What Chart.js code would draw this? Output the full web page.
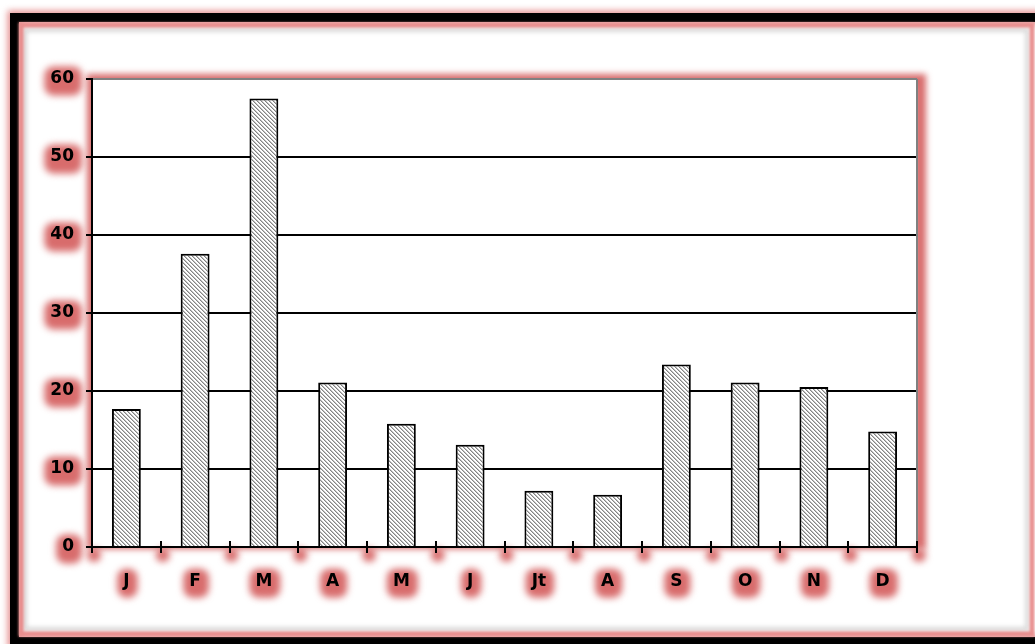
<!DOCTYPE html>
<html>
<head>
<meta charset="utf-8">
<script src="https://cdn.jsdelivr.net/npm/chart.js@4/dist/chart.umd.min.js"></script>
<style>
  html, body { margin: 0; padding: 0; background: #ffffff; }
  #wrap { width: 1035px; height: 644px; position: relative; overflow: hidden; }
  canvas { display: block; }
</style>
</head>
<body>
<div id="wrap"><canvas id="c" width="1035" height="644"></canvas></div>
<script>
// Monthly values, one bar per month
const months = ['J', 'F', 'M', 'A', 'M', 'J', 'Jt', 'A', 'S', 'O', 'N', 'D'];
const values = [17.7, 37.6, 57.5, 21.1, 15.8, 13.1, 7.2, 6.7, 23.4, 21.1, 20.5, 14.8];
const yTickValues = [0, 10, 20, 30, 40, 50, 60];

const FONT = '"DejaVu Sans", "Liberation Sans", sans-serif';
const FONT_SIZE = 17;
const Y_TICK_LEN = 6;
const Y_PAD = 12;
const X_PAD = 24;
const GLOW = 'rgba(212, 92, 92, 0.9)';

// Diagonal hatch fill for the bars
function makeHatch() {
  const t = document.createElement('canvas');
  t.width = 4; t.height = 4;
  const g = t.getContext('2d');
  g.fillStyle = '#ffffff';
  g.fillRect(0, 0, 4, 4);
  for (let y = 0; y < 4; y++) {
    for (let x = 0; x < 4; x++) {
      const d = ((x - y) % 4 + 4) % 4;
      if (d === 0) { g.fillStyle = '#848484'; g.fillRect(x, y, 1, 1); }
      else if (d === 1) { g.fillStyle = '#c2c2c2'; g.fillRect(x, y, 1, 1); }
    }
  }
  return g.createPattern(t, 'repeat');
}

function roundRect(ctx, x, y, w, h, r) {
  ctx.beginPath();
  ctx.moveTo(x + r, y);
  ctx.arcTo(x + w, y, x + w, y + h, r);
  ctx.arcTo(x + w, y + h, x, y + h, r);
  ctx.arcTo(x, y + h, x, y, r);
  ctx.arcTo(x, y, x + w, y, r);
  ctx.closePath();
}

// Frame, pink glows and label halos drawn under the chart
const decor = {
  id: 'decor',
  beforeDraw(chart) {
    const ctx = chart.ctx;
    const a = chart.chartArea;
    const xs = chart.scales.x, ys = chart.scales.y;
    ctx.save();

    // outer glow and black frame
    ctx.filter = 'blur(3px)';
    ctx.strokeStyle = 'rgba(226, 130, 130, 0.85)';
    ctx.lineWidth = 14;
    ctx.strokeRect(14.5, 17.5, 1040, 624);
    ctx.filter = 'none';
    ctx.strokeStyle = '#000000';
    ctx.lineWidth = 9;
    ctx.strokeRect(14.5, 17.5, 1040, 624);

    // inner pink rule with soft grey shade
    ctx.filter = 'blur(2px)';
    ctx.strokeStyle = 'rgba(190, 190, 190, 0.6)';
    ctx.lineWidth = 4;
    ctx.strokeRect(25, 30, 1002, 599);
    ctx.filter = 'blur(1px)';
    ctx.strokeStyle = 'rgba(232, 140, 140, 0.95)';
    ctx.lineWidth = 5;
    ctx.strokeRect(21, 25, 1011, 609);
    ctx.filter = 'none';

    // glow around the plot area
    ctx.filter = 'blur(3px)';
    ctx.strokeStyle = GLOW;
    ctx.lineWidth = 12;
    ctx.strokeRect(a.left + 1, a.top + 1, a.right - a.left + 2, a.bottom - a.top - 5);
    ctx.filter = 'none';
    ctx.fillStyle = '#ffffff';
    ctx.fillRect(a.left, a.top, a.right - a.left, a.bottom - a.top);

    // halos behind tick labels
    ctx.font = 'bold ' + FONT_SIZE + 'px ' + FONT;
    ctx.filter = 'blur(3.5px)';
    ctx.fillStyle = GLOW;
    const capH = 13;
    yTickValues.forEach(v => {
      const cy = ys.getPixelForValue(v);
      const w = ctx.measureText(String(v)).width;
      const rx = a.left - Y_TICK_LEN - Y_PAD;
      roundRect(ctx, rx - w - 6, cy - capH / 2 - 6, w + 14, capH + 16, 9);
      ctx.fill();
    });
    const lh = FONT_SIZE * 1.2;
    const cyx = a.bottom + X_PAD + lh / 2;
    months.forEach((m, i) => {
      const cx = xs.getPixelForValue(i);
      const w = ctx.measureText(m).width;
      roundRect(ctx, cx - w / 2 - 6, cyx - capH / 2 - 6, w + 14, capH + 16, 9);
      ctx.fill();
    });
    // small glows under the category tick marks
    const step = xs.getPixelForValue(1) - xs.getPixelForValue(0);
    for (let i = 0; i <= months.length; i++) {
      const tx = xs.getPixelForValue(0) - step / 2 + i * step;
      ctx.beginPath();
      ctx.arc(tx + 2, a.bottom + 8, 7, 0, Math.PI * 2);
      ctx.fill();
    }
    ctx.filter = 'none';
    ctx.restore();
  },
  afterDraw(chart) {
    const ctx = chart.ctx;
    const a = chart.chartArea;
    const xs = chart.scales.x;
    ctx.save();
    // right edge of the plot area
    ctx.strokeStyle = '#808080';
    ctx.lineWidth = 2;
    ctx.beginPath();
    ctx.moveTo(a.right, a.top);
    ctx.lineTo(a.right, a.bottom);
    ctx.stroke();
    // category tick marks crossing the x axis
    const step = xs.getPixelForValue(1) - xs.getPixelForValue(0);
    ctx.strokeStyle = '#000000';
    ctx.lineWidth = 2;
    for (let i = 0; i <= months.length; i++) {
      const tx = Math.round(xs.getPixelForValue(0) - step / 2 + i * step);
      ctx.beginPath();
      ctx.moveTo(tx, a.bottom - 6);
      ctx.lineTo(tx, a.bottom + 6);
      ctx.stroke();
    }
    ctx.restore();
  }
};

const ctx = document.getElementById('c').getContext('2d');
new Chart(ctx, {
  type: 'bar',
  data: {
    labels: months,
    datasets: [{
      data: values,
      backgroundColor: makeHatch(),
      borderColor: '#000000',
      borderWidth: 2,
      borderSkipped: 'bottom',
      categoryPercentage: 1.0,
      barPercentage: 0.42
    }]
  },
  options: {
    responsive: false,
    devicePixelRatio: 1,
    animation: false,
    layout: { padding: { top: 79, right: 118, left: 0, bottom: 0 } },
    plugins: { legend: { display: false }, tooltip: { enabled: false } },
    scales: {
      x: {
        offset: true,
        grid: { display: true, drawOnChartArea: false, drawTicks: false },
        border: { display: true, color: '#000000', width: 2 },
        ticks: {
          padding: X_PAD,
          color: '#000000',
          font: { family: FONT, size: FONT_SIZE, weight: 'bold' },
          maxRotation: 0
        },
        afterFit: s => { s.height = 97; }
      },
      y: {
        min: 0,
        max: 60,
        afterBuildTicks: s => { s.ticks = yTickValues.map(v => ({ value: v })); },
        grid: {
          color: c => (c.tick && c.tick.value === 60 ? '#808080' : '#000000'),
          lineWidth: 2,
          tickLength: Y_TICK_LEN,
          tickColor: '#000000'
        },
        border: { display: true, color: '#000000', width: 2 },
        ticks: {
          padding: Y_PAD,
          color: '#000000',
          font: { family: FONT, size: FONT_SIZE, weight: 'bold' }
        },
        afterFit: s => { s.width = 92; }
      }
    }
  },
  plugins: [decor]
});
</script>
</body>
</html>
